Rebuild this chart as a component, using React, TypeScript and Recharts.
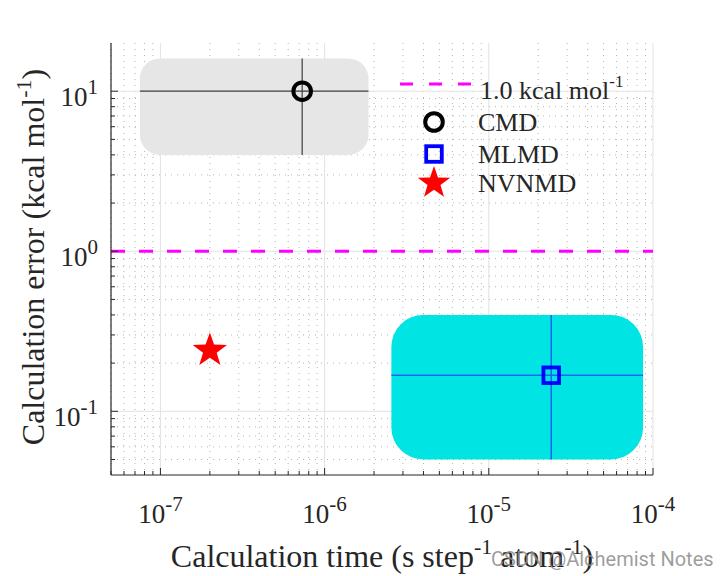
import { CartesianGrid, Legend, ReferenceArea, ReferenceLine, Scatter, ScatterChart, XAxis, YAxis } from "recharts";

// axis ranges and ticks
const timeDomain = [5e-8, 1e-4];
const errorDomain = [0.04, 20];
const timeMajorTicks = [1e-7, 1e-6, 1e-5, 1e-4];
const timeMinorTicks = [
  5e-8, 6e-8, 7e-8, 8e-8, 9e-8,
  2e-7, 3e-7, 4e-7, 5e-7, 6e-7, 7e-7, 8e-7, 9e-7,
  2e-6, 3e-6, 4e-6, 5e-6, 6e-6, 7e-6, 8e-6, 9e-6,
  2e-5, 3e-5, 4e-5, 5e-5, 6e-5, 7e-5, 8e-5, 9e-5
];
const errorMajorTicks = [0.1, 1, 10];
const errorMinorTicks = [0.05, 0.06, 0.07, 0.08, 0.09, 0.2, 0.3, 0.4, 0.5, 0.6, 0.7, 0.8, 0.9, 2, 3, 4, 5, 6, 7, 8, 9];

// series
const cmdPoint = [{ time: 7.3e-7, error: 10 }];
const cmdTimeSpan = [7.5e-8, 1.85e-6];
const cmdErrorSpan = [4.0, 16];

const mlmdPoint = [{ time: 2.4e-5, error: 0.168 }];
const mlmdTimeSpan = [2.55e-6, 8.7e-5];
const mlmdErrorSpan = [0.05, 0.4];

const nvnmdPoint = [{ time: 2.0e-7, error: 0.24 }];

const thresholdError = 1.0;

const legendNames = ["CMD", "MLMD", "NVNMD"];

const serif = '"Liberation Serif", "Times New Roman", serif';
const ink = "#262626";
const allTimeTicks = [...timeMinorTicks, ...timeMajorTicks].sort((a, b) => a - b);
const allErrorTicks = [...errorMinorTicks, ...errorMajorTicks].sort((a, b) => a - b);

const isMajor = (v: number, majors: number[]) => majors.some((m) => Math.abs(m - v) / m < 1e-6);
const expOf = (v: number) => Math.round(Math.log10(v));

function BottomTick({ x, y, payload }: any) {
  const major = isMajor(payload.value, timeMajorTicks);
  return (
    <g>
      <line x1={x} x2={x} y1={y} y2={y - (major ? 7 : 4)} stroke={ink} />
      {major && (
        <text x={x} y={y + 48} textAnchor="middle" fontSize={27} fill={ink} fontFamily={serif}>
          10<tspan dy={-12} fontSize={21}>{expOf(payload.value)}</tspan>
        </text>
      )}
    </g>
  );
}

function TopTick({ x, y, payload }: any) {
  const major = isMajor(payload.value, timeMajorTicks);
  return <line x1={x} x2={x} y1={y} y2={y + (major ? 7 : 4)} stroke={ink} />;
}

function LeftTick({ x, y, payload }: any) {
  const major = isMajor(payload.value, errorMajorTicks);
  return (
    <g>
      <line x1={x} x2={x + (major ? 7 : 4)} y1={y} y2={y} stroke={ink} />
      {major && (
        <text x={x - 13} y={y + 15} textAnchor="end" fontSize={27} fill={ink} fontFamily={serif}>
          10<tspan dy={-12} fontSize={21}>{expOf(payload.value)}</tspan>
        </text>
      )}
    </g>
  );
}

function RightTick({ x, y, payload }: any) {
  const major = isMajor(payload.value, errorMajorTicks);
  return <line x1={x} x2={x - (major ? 7 : 4)} y1={y} y2={y} stroke={ink} />;
}

function Circle({ cx, cy }: any) {
  return <circle cx={cx} cy={cy} r={8.8} fill="none" stroke="#000000" strokeWidth={4} />;
}

function Square({ cx, cy }: any) {
  return <rect x={cx - 7.8} y={cy - 7.8} width={15.6} height={15.6} fill="none" stroke="#0000ff" strokeWidth={3.8} />;
}

function Star({ cx, cy, outer = 18 }: any) {
  const pts: string[] = [];
  for (let i = 0; i < 10; i++) {
    const r = i % 2 === 0 ? outer : outer * 0.4;
    const a = -Math.PI / 2 + (i * Math.PI) / 5;
    pts.push(`${cx + r * Math.cos(a)},${cy + r * Math.sin(a)}`);
  }
  return <polygon points={pts.join(" ")} fill="#ff0000" />;
}

function XTitle({ viewBox }: any) {
  const cx = viewBox.x + viewBox.width / 2;
  const base = viewBox.y + 92;
  return (
    <g>
      <text x={cx} y={base} textAnchor="middle" fontSize={32} fill={ink} fontFamily={serif}>
        Calculation time (s step<tspan dy={-13} fontSize={22}>-1</tspan>
        <tspan dy={13}> atom</tspan>
        <tspan dy={-13} fontSize={22}>-1</tspan>
        <tspan dy={13}>)</tspan>
      </text>
      <text x={491} y={base - 1} fontSize={20} fill="#8c8c8c" fillOpacity={0.85} fontFamily="Roboto, sans-serif">
        CSDN @Alchemist Notes
      </text>
    </g>
  );
}

function YTitle({ viewBox }: any) {
  const cy = viewBox.y + viewBox.height / 2 - 2;
  const bx = 44;
  return (
    <text x={bx} y={cy} transform={`rotate(-90 ${bx} ${cy})`} textAnchor="middle" fontSize={32} fill={ink} fontFamily={serif}>
      Calculation error (kcal mol<tspan dy={-13} fontSize={22}>-1</tspan>
      <tspan dy={13}>)</tspan>
    </text>
  );
}

function LegendBox() {
  const icons = [
    (y: number) => <Circle cx={38} cy={y} />,
    (y: number) => <Square cx={38} cy={y} />,
    (y: number) => <Star cx={38} cy={y} outer={17} />
  ];
  const rowY = [54, 86, 115];
  return (
    <svg width={270} height={135} style={{ display: "block" }}>
      <line x1={4} x2={76} y1={16} y2={16} stroke="#ff00ff" strokeWidth={3} strokeDasharray="13 16" />
      <text x={84} y={31} fontSize={26} fill={ink} fontFamily={serif}>
        1.0 kcal mol<tspan dy={-12} fontSize={17}>-1</tspan>
      </text>
      {legendNames.map((name, i) => (
        <g key={name}>
          {icons[i](rowY[i])}
          <text x={82} y={rowY[i] + 9} fontSize={26} fill={ink} fontFamily={serif}>
            {name}
          </text>
        </g>
      ))}
    </svg>
  );
}

export default function App() {
  return (
    <div style={{ position: "absolute", left: 0, top: 0, background: "#ffffff" }}>
      <ScatterChart width={720} height={576} margin={{ top: 43, right: 67, bottom: 0, left: 0 }}>
        <CartesianGrid
          horizontalValues={errorMinorTicks}
          verticalValues={timeMinorTicks}
          stroke="#b4b4b4"
          strokeDasharray="1 5"
          fill="none"
        />
        <CartesianGrid horizontalValues={errorMajorTicks} verticalValues={timeMajorTicks} stroke="#e2e2e2" fill="none" />
        <XAxis
          dataKey="time"
          type="number"
          scale="log"
          domain={timeDomain}
          allowDataOverflow
          ticks={allTimeTicks}
          interval={0}
          tickSize={0}
          tickMargin={0}
          tick={<BottomTick />}
          height={101}
          axisLine={{ stroke: ink, strokeWidth: 1.2 }}
          label={{ content: XTitle }}
        />
        <XAxis
          xAxisId="top"
          orientation="top"
          type="number"
          scale="log"
          domain={timeDomain}
          allowDataOverflow
          ticks={allTimeTicks}
          interval={0}
          tickSize={0}
          tickMargin={0}
          tick={<TopTick />}
          height={0}
          axisLine={{ stroke: ink, strokeWidth: 1.2 }}
        />
        <YAxis
          dataKey="error"
          type="number"
          scale="log"
          domain={errorDomain}
          allowDataOverflow
          ticks={allErrorTicks}
          interval={0}
          tickSize={0}
          tickMargin={0}
          tick={<LeftTick />}
          width={111}
          axisLine={{ stroke: ink, strokeWidth: 1.2 }}
          label={{ content: YTitle }}
        />
        <YAxis
          yAxisId="right"
          orientation="right"
          type="number"
          scale="log"
          domain={errorDomain}
          allowDataOverflow
          ticks={allErrorTicks}
          interval={0}
          tickSize={0}
          tickMargin={0}
          tick={<RightTick />}
          width={0}
          axisLine={{ stroke: ink, strokeWidth: 1.2 }}
        />
        <ReferenceArea
          x1={cmdTimeSpan[0]}
          x2={cmdTimeSpan[1]}
          y1={cmdErrorSpan[0]}
          y2={cmdErrorSpan[1]}
          fill="#e6e6e6"
          fillOpacity={1}
          stroke="none"
          radius={20}
        />
        <ReferenceArea
          x1={mlmdTimeSpan[0]}
          x2={mlmdTimeSpan[1]}
          y1={mlmdErrorSpan[0]}
          y2={mlmdErrorSpan[1]}
          fill="#00e4e4"
          fillOpacity={1}
          stroke="none"
          radius={32}
        />
        <ReferenceLine y={thresholdError} stroke="#ff00ff" strokeWidth={3} strokeDasharray="14 14" />
        <ReferenceLine
          segment={[{ x: cmdTimeSpan[0], y: cmdPoint[0].error }, { x: cmdTimeSpan[1], y: cmdPoint[0].error }]}
          stroke="#3c3c3c"
          strokeWidth={1.2}
        />
        <ReferenceLine
          segment={[{ x: cmdPoint[0].time, y: cmdErrorSpan[0] }, { x: cmdPoint[0].time, y: cmdErrorSpan[1] }]}
          stroke="#3c3c3c"
          strokeWidth={1.2}
        />
        <ReferenceLine
          segment={[{ x: mlmdTimeSpan[0], y: mlmdPoint[0].error }, { x: mlmdTimeSpan[1], y: mlmdPoint[0].error }]}
          stroke="#1566f0"
          strokeWidth={1.5}
        />
        <ReferenceLine
          segment={[{ x: mlmdPoint[0].time, y: mlmdErrorSpan[0] }, { x: mlmdPoint[0].time, y: mlmdErrorSpan[1] }]}
          stroke="#1566f0"
          strokeWidth={1.5}
        />
        <Scatter name="CMD" data={cmdPoint} shape={<Circle />} isAnimationActive={false} />
        <Scatter name="MLMD" data={mlmdPoint} shape={<Square />} isAnimationActive={false} />
        <Scatter name="NVNMD" data={nvnmdPoint} shape={<Star outer={18} />} isAnimationActive={false} />
        <Legend
          layout="vertical"
          align="center"
          verticalAlign="middle"
          content={() => <LegendBox />}
          wrapperStyle={{ left: 396, top: 68, width: 270, height: 135 }}
        />
      </ScatterChart>
    </div>
  );
}
